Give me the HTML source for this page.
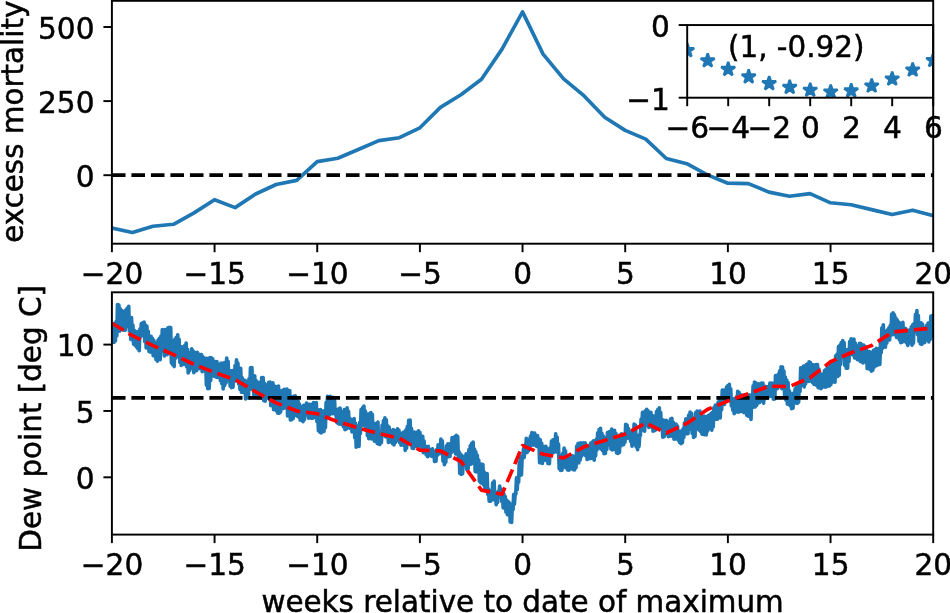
<!DOCTYPE html>
<html lang="en"><head><meta charset="utf-8"><title>excess mortality and dew point</title>
<style>html,body{margin:0;padding:0;background:#fff;overflow:hidden}svg{display:block}text{font-family:"DejaVu Sans","Liberation Sans",sans-serif;font-size:29.4px;fill:#000;stroke:#000;stroke-width:0.5px}.t{font-size:29.6px}</style></head><body>
<svg width="950" height="613" viewBox="0 0 950 613">
<rect width="950" height="613" fill="#fff"/>
<defs>
<clipPath id="c1"><rect x="111.9" y="0.8" width="821.3" height="242.9"/></clipPath>
<clipPath id="c2"><rect x="111.9" y="292.3" width="821.3" height="242.3"/></clipPath>
<clipPath id="c3"><rect x="687.2" y="25.05" width="246" height="72.65"/></clipPath>
</defs>
<g clip-path="url(#c1)">
<polyline fill="none" stroke="#1f77b4" stroke-width="3.66" stroke-linejoin="round" stroke-linecap="square" points="111.9,228.1 132.43,232.5 152.97,226.2 173.5,224.3 194.03,212.9 214.56,199.7 235.1,207.6 255.63,194 276.16,184.5 296.69,180.4 317.23,161.6 337.76,158.2 358.29,149.5 378.82,140.6 399.36,137.7 419.89,127.8 440.42,107.4 460.95,94.7 481.49,79.2 502.02,49.1 522.55,11.9 543.08,54.1 563.62,78.8 584.15,95.9 604.68,117.3 625.21,130.4 645.75,139.1 666.28,158.5 686.81,163.7 707.34,174.9 727.88,183.2 748.41,183.6 768.94,192.1 789.47,196.2 810.01,193.6 830.54,202.8 851.07,204.7 871.6,209.6 892.14,214.5 912.67,210.2 933.2,215.7"/>
<line x1="111.9" y1="175.2" x2="933.2" y2="175.2" stroke="#000" stroke-width="3.66" stroke-dasharray="13.6 5.9"/>
</g>
<g clip-path="url(#c2)">
<polyline fill="none" stroke="#1f77b4" stroke-width="3.66" stroke-linejoin="round" points="111.9,326.3 112.6,341.21 113.3,324.47 114,342.32 114.7,323.3 115.4,340.96 116.1,321.62 116.8,335.91 117.5,304.66 118.2,331.01 118.9,305.14 119.6,331.16 120.3,308.78 121,328.55 121.7,310.46 122.4,329.66 123.1,311.53 123.8,330.09 124.5,311.18 125.2,330.23 125.9,309.85 126.6,324.95 127.3,308.1 128,326.57 128.7,306.24 129.4,331.21 130.1,318.85 130.8,339.49 131.5,317.52 132.2,339.96 132.9,325.02 133.6,344.22 134.3,330.26 135,345.16 135.7,332.38 136.4,346.84 137.1,331.48 137.8,348.76 138.5,332.2 139.2,350.67 139.9,329.16 140.6,336.79 141.3,323.48 142,333.81 142.7,322.71 143.4,335.55 144.1,322.2 144.8,341.69 145.5,324.96 146.2,347.91 146.9,325.97 147.6,344.15 148.3,331.43 149,351.39 149.7,338.28 150.4,352.21 151.1,336.3 151.8,351.42 152.5,338.34 153.2,355.75 153.9,340.63 154.6,355.64 155.3,345.28 156,359.64 156.7,342.97 157.4,361.24 158.1,339.75 158.8,357.15 159.5,338.31 160.2,359.68 160.9,335.98 161.6,350.62 162.3,329.66 163,351.61 163.7,330.05 164.4,355.92 165.1,329.65 165.8,353.26 166.5,330.75 167.2,354.74 167.9,327.79 168.6,350.1 169.3,327.26 170,349.62 170.7,327.61 171.4,363.05 172.1,341.44 172.8,365.01 173.5,340.56 174.2,366.56 174.9,339.12 175.6,358.22 176.3,337.25 177,356.65 177.7,334.91 178.4,354.79 179.1,339.23 179.8,362.3 180.5,349.61 181.2,365.34 181.9,346.8 182.6,362.07 183.3,349.38 184,364.35 184.7,345.56 185.4,363.37 186.1,342.97 186.8,366.93 187.5,349.38 188.2,372.87 188.9,352.66 189.6,370.71 190.3,354.41 191,366.44 191.7,348.85 192.4,368.37 193.1,350.82 193.8,372.79 194.5,355.18 195.2,370.57 195.9,352.62 196.6,370.79 197.3,352.38 198,368.29 198.7,354.12 199.4,368.68 200.1,354.54 200.8,368.97 201.5,354.64 202.2,371.69 202.9,356.75 203.6,368.05 204.3,357.81 205,371.21 205.7,359.92 206.4,385.23 207.1,358.3 207.8,388.63 208.5,359.06 209.2,388.52 209.9,357.7 210.6,380.64 211.3,357.86 212,374.99 212.7,358.85 213.4,376.08 214.1,363.09 214.8,373.33 215.5,361.65 216.2,377.1 216.9,361.53 217.6,377.38 218.3,364.03 219,374.05 219.7,365.38 220.4,380.62 221.1,363.17 221.8,383.63 222.5,365.65 223.2,388.98 223.9,362.76 224.6,385.41 225.3,362.28 226,382.99 226.7,358.04 227.4,377.85 228.1,361.25 228.8,380.7 229.5,373.28 230.2,386.19 230.9,370.81 231.6,387.55 232.3,370.62 233,387.11 233.7,371.25 234.4,381.49 235.1,365.64 235.8,379.54 236.5,359.72 237.2,378.85 237.9,363.07 238.6,383.99 239.3,368.46 240,389.37 240.7,368.29 241.4,392.08 242.1,377.55 242.8,392.34 243.5,379.93 244.2,391.92 244.9,380.27 245.6,398.87 246.3,381.15 247,395.32 247.7,381.62 248.4,397.99 249.1,378.61 249.8,389.33 250.5,367.93 251.2,388.97 251.9,367.5 252.6,389.37 253.3,375.93 254,396.43 254.7,375.79 255.4,393.77 256.1,380.55 256.8,396 257.5,384.12 258.2,397.9 258.9,382.34 259.6,397.42 260.3,383.08 261,396.52 261.7,377.5 262.4,398.25 263.1,377.54 263.8,400.61 264.5,383.33 265.2,401.18 265.9,384.76 266.6,398.22 267.3,387.31 268,397.61 268.7,382.42 269.4,399.43 270.1,382.19 270.8,405.58 271.5,385.64 272.2,403.1 272.9,382.87 273.6,409.79 274.3,385.87 275,408.53 275.7,389.45 276.4,411.03 277.1,386.57 277.8,413.18 278.5,386.1 279.2,413.23 279.9,390.78 280.6,412.05 281.3,390.91 282,408.5 282.7,390.43 283.4,408.46 284.1,389.27 284.8,407.62 285.5,389.28 286.2,407.67 286.9,389.12 287.6,415.97 288.3,390.72 289,416.19 289.7,390.54 290.4,420.01 291.1,396.58 291.8,419.74 292.5,398.94 293.2,418.43 293.9,396.16 294.6,414.04 295.3,395.95 296,415.38 296.7,397.64 297.4,416.1 298.1,400.89 298.8,417.18 299.5,403.96 300.2,420.15 300.9,407.32 301.6,417.53 302.3,406.53 303,421.63 303.7,405.42 304.4,419.65 305.1,406.56 305.8,414.84 306.5,403.04 307.2,415.11 307.9,404.08 308.6,418.07 309.3,404.25 310,417.93 310.7,404.74 311.4,418.29 312.1,404.04 312.8,418.11 313.5,402.64 314.2,417.14 314.9,403.48 315.6,417.7 316.3,402.63 317,421.71 317.7,409.69 318.4,430.61 319.1,411.94 319.8,432.07 320.5,409.55 321.2,432.91 321.9,410.79 322.6,431.62 323.3,413.01 324,431.37 324.7,410.46 325.4,427.7 326.1,402.69 326.8,415.19 327.5,396.22 328.2,415.7 328.9,397.48 329.6,414.84 330.3,396.43 331,411.47 331.7,397.39 332.4,413.58 333.1,397.35 333.8,410.36 334.5,399.64 335.2,414.26 335.9,409.58 336.6,422.08 337.3,410.8 338,423.46 338.7,408.94 339.4,424.26 340.1,408.12 340.8,422.42 341.5,411.61 342.2,425 342.9,412.43 343.6,426.95 344.3,409.69 345,429.77 345.7,411.97 346.4,428.89 347.1,407.84 347.8,427.98 348.5,411.3 349.2,424.5 349.9,418.33 350.6,428.51 351.3,421.79 352,431.93 352.7,419.5 353.4,431.47 354.1,418.52 354.8,437.67 355.5,423.41 356.2,447.28 356.9,428.91 357.6,445.95 358.3,426.2 359,446.41 359.7,422.37 360.4,433.39 361.1,409.47 361.8,425.23 362.5,407.84 363.2,424 363.9,406.12 364.6,425.59 365.3,411.01 366,430.42 366.7,413.82 367.4,435.62 368.1,414.58 368.8,438.69 369.5,413.68 370.2,435.89 370.9,412.56 371.6,438.85 372.3,414.27 373,436.49 373.7,422.96 374.4,441.21 375.1,426.62 375.8,440.87 376.5,423.43 377.2,443.51 377.9,422.11 378.6,444.05 379.3,440.29 380,444.39 380.7,438.72 381.4,442.38 382.1,425.24 382.8,435.75 383.5,420.55 384.2,433.29 384.9,417.86 385.6,436.8 386.3,419.88 387,437.06 387.7,425.82 388.4,442.52 389.1,427.02 389.8,440.92 390.5,430.39 391.2,442.2 391.9,430.51 392.6,443.76 393.3,429.58 394,444.86 394.7,430.53 395.4,442.39 396.1,433.02 396.8,439.26 397.5,428.85 398.2,440.69 398.9,430 399.6,442.76 400.3,433.38 401,445.11 401.7,433.22 402.4,440.74 403.1,432.37 403.8,445.35 404.5,431.87 405.2,450.33 405.9,429.87 406.6,448.19 407.3,426.52 408,438.06 408.7,420.39 409.4,440.82 410.1,420.03 410.8,441.18 411.5,428.49 412.2,448.16 412.9,432.14 413.6,448.52 414.3,432.15 415,445.34 415.7,434.18 416.4,446.48 417.1,432.16 417.8,445.95 418.5,430.81 419.2,445.71 419.9,432.3 420.6,446.35 421.3,436.17 422,450.59 422.7,436.36 423.4,452.66 424.1,441.15 424.8,452.3 425.5,446.31 426.2,454.81 426.9,450.76 427.6,456.65 428.3,446.44 429,455.6 429.7,449.26 430.4,454.11 431.1,451.05 431.8,456.27 432.5,448.82 433.2,456.01 433.9,454.35 434.6,461.5 435.3,451.45 436,461.13 436.7,449.54 437.4,455.13 438.1,444.89 438.8,453.85 439.5,445.08 440.2,453.39 440.9,439.14 441.6,452.77 442.3,440.74 443,461.16 443.7,451.89 444.4,464.59 445.1,452.41 445.8,462.17 446.5,445.89 447.2,453.91 447.9,443.93 448.6,456.76 449.3,445.71 450,456.47 450.7,443.21 451.4,452.54 452.1,437.59 452.8,451.15 453.5,438.28 454.2,448.91 454.9,436.54 455.6,453.89 456.3,435.39 457,453.82 457.7,436.61 458.4,458 459.1,451.73 459.8,473.32 460.5,454.05 461.2,474.44 461.9,455.37 462.6,473.71 463.3,456.59 464,464.91 464.7,457.22 465.4,465.44 466.1,453.75 466.8,469.35 467.5,455.85 468.2,468.44 468.9,449.47 469.6,460.48 470.3,445.5 471,464.17 471.7,443.25 472.4,459.13 473.1,442.14 473.8,463.52 474.5,448.99 475.2,471.55 475.9,451.94 476.6,471.82 477.3,455.25 478,470.65 478.7,459.99 479.4,481.3 480.1,464.67 480.8,482.87 481.5,464.11 482.2,480.41 482.9,464.64 483.6,484.85 484.3,472.19 485,489.31 485.7,473.64 486.4,488.67 487.1,473.51 487.8,494.56 488.5,489.18 489.2,501.23 489.9,490.54 490.6,501.23 491.3,492.36 492,500.05 492.7,482.71 493.4,499.71 494.1,481.01 494.8,498.8 495.5,495.25 496.2,504.62 496.9,494.53 497.6,502.44 498.3,491.25 499,494.24 499.7,486.18 500.4,496.08 501.1,489.05 501.8,501.66 502.5,495.45 503.2,507.88 503.9,493.78 504.6,505.41 505.3,496.62 506,512.26 506.7,500.42 507.4,514.78 508.1,501.43 508.8,514.14 509.5,502.81 510.2,521.84 510.9,505.32 511.6,522.4 512.3,504.56 513,509.72 513.7,494.36 514.4,504.1 515.1,494.78 515.8,494.2 516.5,477.71 517.2,489.77 517.9,477 518.6,482.12 519.3,462.04 520,475.45 520.7,456.35 521.4,474.96 522.1,458.19 522.8,458.53 523.5,448.87 524.2,457.42 524.9,445.17 525.6,453 526.3,438.33 527,452.54 527.7,439.41 528.4,450.9 529.1,440.06 529.8,447.22 530.5,436.13 531.2,443.45 531.9,432.64 532.6,445.03 533.3,433.33 534,445.22 534.7,433.04 535.4,444.7 536.1,436.03 536.8,446.51 537.5,435.68 538.2,446.3 538.9,438.82 539.6,462.64 540.3,439.78 541,462.99 541.7,443.32 542.4,463.36 543.1,446.58 543.8,460.42 544.5,446.64 545.2,459.26 545.9,446.37 546.6,460.56 547.3,448.98 548,463.54 548.7,448.84 549.4,463.71 550.1,447.79 550.8,455.24 551.5,441.08 552.2,452.62 552.9,439.91 553.6,452.31 554.3,439.68 555,447.79 555.7,433.8 556.4,452.01 557.1,437.08 557.8,452.22 558.5,444.01 559.2,468.71 559.9,455.71 560.6,470.51 561.3,456 562,470.07 562.7,453.31 563.4,466.19 564.1,448.16 564.8,467.06 565.5,450.74 566.2,467.86 566.9,455.84 567.6,470 568.3,459.13 569,470.2 569.7,457.86 570.4,468.83 571.1,457.95 571.8,468.52 572.5,455.95 573.2,469.57 573.9,456.38 574.6,469.92 575.3,457.02 576,467.61 576.7,446.2 577.4,459.86 578.1,443.38 578.8,463.01 579.5,443.22 580.2,459.94 580.9,442.72 581.6,456.03 582.3,444.36 583,454.75 583.7,442.9 584.4,454.53 585.1,442.78 585.8,456 586.5,446.1 587.2,459.53 587.9,447.17 588.6,458.54 589.3,446.22 590,458.63 590.7,443.16 591.4,456.75 592.1,442.16 592.8,458.36 593.5,440.79 594.2,460.25 594.9,444.81 595.6,455.93 596.3,439.43 597,449.86 597.7,432.77 598.4,446.41 599.1,429.54 599.8,448.24 600.5,428.32 601.2,449.22 601.9,433.29 602.6,450.79 603.3,436.08 604,453.56 604.7,438.17 605.4,453.41 606.1,439.69 606.8,449.37 607.5,432.65 608.2,445.25 608.9,431.87 609.6,443.14 610.3,431.28 611,449.15 611.7,428.97 612.4,449.86 613.1,431.06 613.8,449.4 614.5,430.22 615.2,449.02 615.9,433.24 616.6,453.02 617.3,439.95 618,453.48 618.7,438.15 619.4,452.49 620.1,434.95 620.8,445.98 621.5,433.87 622.2,444.93 622.9,436.68 623.6,444.63 624.3,435.58 625,442.29 625.7,424.24 626.4,438.53 627.1,425.12 627.8,437.7 628.5,428.45 629.2,438.02 629.9,431.32 630.6,441.31 631.3,432.21 632,446.15 632.7,431.06 633.4,444.78 634.1,424.15 634.8,444.33 635.5,424.96 636.2,447 636.9,435.45 637.6,449.65 638.3,435.36 639,446.47 639.7,435.29 640.4,435.6 641.1,419.05 641.8,428.84 642.5,412.34 643.2,430.22 643.9,413.4 644.6,431.29 645.3,410.9 646,425.49 646.7,409.28 647.4,425.18 648.1,410.77 648.8,427.4 649.5,412.38 650.2,426.07 650.9,412.26 651.6,427.13 652.3,415.51 653,431.09 653.7,416.08 654.4,430.78 655.1,416.49 655.8,429.9 656.5,411.65 657.2,425.71 657.9,409.32 658.6,426.58 659.3,407.95 660,424.67 660.7,412.7 661.4,428.74 662.1,423.93 662.8,437.24 663.5,420.07 664.2,436.69 664.9,422.58 665.6,434.09 666.3,420.39 667,433.49 667.7,422 668.4,436.56 669.1,421.89 669.8,435.68 670.5,419.18 671.2,436.15 671.9,418.43 672.6,434.64 673.3,422.42 674,439.22 674.7,426.38 675.4,438.98 676.1,424.16 676.8,438.74 677.5,425.99 678.2,440.13 678.9,432.49 679.6,442.44 680.3,431.4 681,443.65 681.7,430.94 682.4,442.68 683.1,428.76 683.8,437.44 684.5,422.76 685.2,433.68 685.9,418.77 686.6,433.79 687.3,418.74 688,433.68 688.7,415.08 689.4,427.21 690.1,412.15 690.8,429.45 691.5,413.4 692.2,433.47 692.9,422.09 693.6,437.48 694.3,424.61 695,436.33 695.7,412.63 696.4,429.11 697.1,410.96 697.8,427.56 698.5,412.87 699.2,430.16 699.9,411.02 700.6,431.49 701.3,417.47 702,434.1 702.7,416.55 703.4,434.53 704.1,415.97 704.8,434.65 705.5,416.73 706.2,434.87 706.9,416.61 707.6,431.25 708.3,415.27 709,428.92 709.7,414.72 710.4,427.65 711.1,413.23 711.8,430.17 712.5,412.34 713.2,426.91 713.9,407.46 714.6,419.36 715.3,404.98 716,419.27 716.7,408.15 717.4,419.14 718.1,402.39 718.8,417 719.5,399.12 720.2,417.92 720.9,399.73 721.6,409.62 722.3,390.01 723,404.82 723.7,389.96 724.4,404.51 725.1,391.64 725.8,400.25 726.5,387.19 727.2,398.46 727.9,385.46 728.6,400.28 729.3,384.36 730,400.38 730.7,388.84 731.4,405.8 732.1,399.69 732.8,410.18 733.5,398.86 734.2,413.73 734.9,400.64 735.6,412.17 736.3,397.09 737,411.21 737.7,391.37 738.4,412.17 739.1,392.33 739.8,411.61 740.5,394.87 741.2,411.1 741.9,395.04 742.6,411.58 743.3,395.66 744,412.58 744.7,394.72 745.4,411.62 746.1,402.23 746.8,415.28 747.5,398.52 748.2,416.2 748.9,394.89 749.6,416.21 750.3,399.32 751,419.49 751.7,394.71 752.4,407.61 753.1,385.94 753.8,401.21 754.5,382.17 755.2,407.02 755.9,382.83 756.6,405.47 757.3,385.12 758,401.9 758.7,383.81 759.4,402.66 760.1,383.96 760.8,401.21 761.5,383.03 762.2,400.74 762.9,383.11 763.6,403.19 764.3,385.97 765,398.88 765.7,389.6 766.4,398.09 767.1,386.49 767.8,398.13 768.5,389.21 769.2,395.91 769.9,383.12 770.6,396.28 771.3,383.14 772,396.15 772.7,383.31 773.4,399.17 774.1,383.89 774.8,398.82 775.5,375.58 776.2,389.18 776.9,375.7 777.6,388.43 778.3,374.03 779,385.65 779.7,370.78 780.4,383.37 781.1,366.8 781.8,388.66 782.5,367.11 783.2,383.08 783.9,371.17 784.6,395.2 785.3,377.04 786,400.16 786.7,380.01 787.4,404.19 788.1,382.55 788.8,403.56 789.5,391.07 790.2,405.79 790.9,395.09 791.6,408.6 792.3,393.48 793,408.17 793.7,393.12 794.4,403.13 795.1,388.93 795.8,400.37 796.5,384.98 797.2,403.46 797.9,385.18 798.6,402.15 799.3,382.52 800,391.37 800.7,367.86 801.4,385.42 802.1,368.29 802.8,384.56 803.5,366.04 804.2,386.87 804.9,369.43 805.6,383.89 806.3,364.6 807,379.34 807.7,363.86 808.4,381.51 809.1,361.84 809.8,381.17 810.5,362.66 811.2,380.35 811.9,364.63 812.6,382.71 813.3,364.89 814,384.33 814.7,367.25 815.4,383.99 816.1,364.7 816.8,385.78 817.5,364.54 818.2,387.59 818.9,369.18 819.6,387.61 820.3,374.72 821,388.6 821.7,374.07 822.4,387.21 823.1,375.02 823.8,386.25 824.5,370.65 825.2,387.24 825.9,369.27 826.6,386.76 827.3,367.85 828,385.81 828.7,367.88 829.4,385.87 830.1,363.78 830.8,384.6 831.5,363.76 832.2,382.02 832.9,362.87 833.6,381.89 834.3,362.3 835,382.26 835.7,355.74 836.4,376.78 837.1,354.09 837.8,376.47 838.5,346.62 839.2,375.2 839.9,345.2 840.6,364.42 841.3,342.47 842,354.93 842.7,340.53 843.4,354.94 844.1,342.6 844.8,365.53 845.5,349.5 846.2,368.14 846.9,351.88 847.6,368.09 848.3,349.38 849,361.54 849.7,341.62 850.4,354.77 851.1,338.85 851.8,353.92 852.5,339.58 853.2,355.11 853.9,339.15 854.6,357.93 855.3,343.13 856,358.12 856.7,347.58 857.4,359.71 858.1,345.95 858.8,358.07 859.5,343.32 860.2,361.5 860.9,343.61 861.6,362.03 862.3,349.22 863,362.86 863.7,345.11 864.4,361.54 865.1,346.3 865.8,362.24 866.5,350.33 867.2,368.7 867.9,351.4 868.6,368.04 869.3,351.66 870,369.55 870.7,353.36 871.4,371.09 872.1,352.18 872.8,370.15 873.5,350.31 874.2,367.27 874.9,349.7 875.6,365.97 876.3,348.36 877,365.52 877.7,349.9 878.4,364.34 879.1,348.51 879.8,364.43 880.5,343.1 881.2,352.77 881.9,327.88 882.6,348.27 883.3,324.72 884,346.4 884.7,331.18 885.4,347.15 886.1,332.36 886.8,343.08 887.5,329.91 888.2,340.05 888.9,327.94 889.6,339.84 890.3,325.42 891,335.08 891.7,314.16 892.4,334.58 893.1,312.84 893.8,332.32 894.5,314.92 895.2,334.88 895.9,318.2 896.6,337.35 897.3,320.05 898,337.44 898.7,321.97 899.4,339.95 900.1,323.05 900.8,342.79 901.5,324.29 902.2,342.2 902.9,322.45 903.6,341.17 904.3,328.13 905,341.25 905.7,328.64 906.4,343.02 907.1,331.18 907.8,345.51 908.5,330.67 909.2,341.57 909.9,329.62 910.6,343.11 911.3,326.72 912,345.11 912.7,324.82 913.4,343.11 914.1,323.45 914.8,330.78 915.5,314.38 916.2,331.37 916.9,310.68 917.6,334.64 918.3,315.58 919,341.49 919.7,324.06 920.4,343.92 921.1,322.82 921.8,344.49 922.5,324.07 923.2,342.38 923.9,328.43 924.6,342.6 925.3,327.89 926,340.19 926.7,325.45 927.4,338.43 928.1,323.11 928.8,341.89 929.5,322.6 930.2,339.4 930.9,316.17 931.6,336.67 932.3,315.65 933,337.13"/>
<line x1="111.9" y1="397.85" x2="933.2" y2="397.85" stroke="#000" stroke-width="3.66" stroke-dasharray="13.6 5.9"/>
<polyline fill="none" stroke="#f00" stroke-width="3.66" stroke-linejoin="round" stroke-dasharray="13.6 5.9" points="111.9,323.2 132.43,335.7 152.97,345.6 173.5,354.6 194.03,364.4 214.56,372.5 235.1,379.6 255.63,391.8 276.16,402.9 296.69,411 317.23,413.7 337.76,421.7 358.29,428 378.82,433.6 399.36,438.2 419.89,450.2 440.42,450.9 460.95,461.5 481.49,490.1 502.02,494.3 522.55,445.6 543.08,454.2 563.62,458 584.15,446.8 604.68,440.4 625.21,434.1 645.75,423 666.28,433 686.81,423.4 707.34,409.5 727.88,401 748.41,393.6 768.94,386.2 789.47,386.6 810.01,377.7 830.54,361.8 851.07,352.8 871.6,345.6 892.14,332.2 912.67,329.8 933.2,328.2"/>
</g>
<rect x="111.9" y="0.8" width="821.3" height="242.9" fill="none" stroke="#000" stroke-width="1.94" stroke-linejoin="miter"/>
<line x1="111.9" y1="243.7" x2="111.9" y2="252.2" stroke="#000" stroke-width="1.94"/>
<text class="t" x="112.05" y="283.5" text-anchor="middle">−20</text>
<line x1="214.56" y1="243.7" x2="214.56" y2="252.2" stroke="#000" stroke-width="1.94"/>
<text class="t" x="214.71" y="283.5" text-anchor="middle">−15</text>
<line x1="317.23" y1="243.7" x2="317.23" y2="252.2" stroke="#000" stroke-width="1.94"/>
<text class="t" x="317.38" y="283.5" text-anchor="middle">−10</text>
<line x1="419.89" y1="243.7" x2="419.89" y2="252.2" stroke="#000" stroke-width="1.94"/>
<text class="t" x="420.04" y="283.5" text-anchor="middle">−5</text>
<line x1="522.55" y1="243.7" x2="522.55" y2="252.2" stroke="#000" stroke-width="1.94"/>
<text class="t" x="522.7" y="283.5" text-anchor="middle">0</text>
<line x1="625.21" y1="243.7" x2="625.21" y2="252.2" stroke="#000" stroke-width="1.94"/>
<text class="t" x="625.36" y="283.5" text-anchor="middle">5</text>
<line x1="727.88" y1="243.7" x2="727.88" y2="252.2" stroke="#000" stroke-width="1.94"/>
<text class="t" x="728.02" y="283.5" text-anchor="middle">10</text>
<line x1="830.54" y1="243.7" x2="830.54" y2="252.2" stroke="#000" stroke-width="1.94"/>
<text class="t" x="830.69" y="283.5" text-anchor="middle">15</text>
<line x1="933.2" y1="243.7" x2="933.2" y2="252.2" stroke="#000" stroke-width="1.94"/>
<text class="t" x="933.35" y="283.5" text-anchor="middle">20</text>
<line x1="103.4" y1="27" x2="111.9" y2="27" stroke="#000" stroke-width="1.94"/>
<text class="t" x="94.5" y="38.8" text-anchor="end">500</text>
<line x1="103.4" y1="101.1" x2="111.9" y2="101.1" stroke="#000" stroke-width="1.94"/>
<text class="t" x="94.5" y="112.9" text-anchor="end">250</text>
<line x1="103.4" y1="175.2" x2="111.9" y2="175.2" stroke="#000" stroke-width="1.94"/>
<text class="t" x="94.5" y="187" text-anchor="end">0</text>
<rect x="111.9" y="292.3" width="821.3" height="242.3" fill="none" stroke="#000" stroke-width="1.94" stroke-linejoin="miter"/>
<line x1="111.9" y1="534.6" x2="111.9" y2="543.1" stroke="#000" stroke-width="1.94"/>
<text class="t" x="112.05" y="574.5" text-anchor="middle">−20</text>
<line x1="214.56" y1="534.6" x2="214.56" y2="543.1" stroke="#000" stroke-width="1.94"/>
<text class="t" x="214.71" y="574.5" text-anchor="middle">−15</text>
<line x1="317.23" y1="534.6" x2="317.23" y2="543.1" stroke="#000" stroke-width="1.94"/>
<text class="t" x="317.38" y="574.5" text-anchor="middle">−10</text>
<line x1="419.89" y1="534.6" x2="419.89" y2="543.1" stroke="#000" stroke-width="1.94"/>
<text class="t" x="420.04" y="574.5" text-anchor="middle">−5</text>
<line x1="522.55" y1="534.6" x2="522.55" y2="543.1" stroke="#000" stroke-width="1.94"/>
<text class="t" x="522.7" y="574.5" text-anchor="middle">0</text>
<line x1="625.21" y1="534.6" x2="625.21" y2="543.1" stroke="#000" stroke-width="1.94"/>
<text class="t" x="625.36" y="574.5" text-anchor="middle">5</text>
<line x1="727.88" y1="534.6" x2="727.88" y2="543.1" stroke="#000" stroke-width="1.94"/>
<text class="t" x="728.02" y="574.5" text-anchor="middle">10</text>
<line x1="830.54" y1="534.6" x2="830.54" y2="543.1" stroke="#000" stroke-width="1.94"/>
<text class="t" x="830.69" y="574.5" text-anchor="middle">15</text>
<line x1="933.2" y1="534.6" x2="933.2" y2="543.1" stroke="#000" stroke-width="1.94"/>
<text class="t" x="933.35" y="574.5" text-anchor="middle">20</text>
<line x1="103.4" y1="344.6" x2="111.9" y2="344.6" stroke="#000" stroke-width="1.94"/>
<text class="t" x="94.5" y="356.2" text-anchor="end">10</text>
<line x1="103.4" y1="410.95" x2="111.9" y2="410.95" stroke="#000" stroke-width="1.94"/>
<text class="t" x="94.5" y="422.55" text-anchor="end">5</text>
<line x1="103.4" y1="477.3" x2="111.9" y2="477.3" stroke="#000" stroke-width="1.94"/>
<text class="t" x="94.5" y="488.9" text-anchor="end">0</text>
<g clip-path="url(#c3)" fill="#1f77b4" stroke="#1f77b4" stroke-width="2.43" stroke-linejoin="bevel">
<polygon transform="translate(687.2 50.5)" points="0,-7.3 -1.64,-2.26 -6.94,-2.26 -2.65,0.86 -4.29,5.91 -0,2.79 4.29,5.91 2.65,0.86 6.94,-2.26 1.64,-2.26"/>
<polygon transform="translate(707.7 60.7)" points="0,-7.3 -1.64,-2.26 -6.94,-2.26 -2.65,0.86 -4.29,5.91 -0,2.79 4.29,5.91 2.65,0.86 6.94,-2.26 1.64,-2.26"/>
<polygon transform="translate(728.2 69.3)" points="0,-7.3 -1.64,-2.26 -6.94,-2.26 -2.65,0.86 -4.29,5.91 -0,2.79 4.29,5.91 2.65,0.86 6.94,-2.26 1.64,-2.26"/>
<polygon transform="translate(748.7 76.8)" points="0,-7.3 -1.64,-2.26 -6.94,-2.26 -2.65,0.86 -4.29,5.91 -0,2.79 4.29,5.91 2.65,0.86 6.94,-2.26 1.64,-2.26"/>
<polygon transform="translate(769.2 83.5)" points="0,-7.3 -1.64,-2.26 -6.94,-2.26 -2.65,0.86 -4.29,5.91 -0,2.79 4.29,5.91 2.65,0.86 6.94,-2.26 1.64,-2.26"/>
<polygon transform="translate(789.7 87.3)" points="0,-7.3 -1.64,-2.26 -6.94,-2.26 -2.65,0.86 -4.29,5.91 -0,2.79 4.29,5.91 2.65,0.86 6.94,-2.26 1.64,-2.26"/>
<polygon transform="translate(810.2 90.1)" points="0,-7.3 -1.64,-2.26 -6.94,-2.26 -2.65,0.86 -4.29,5.91 -0,2.79 4.29,5.91 2.65,0.86 6.94,-2.26 1.64,-2.26"/>
<polygon transform="translate(830.7 91.9)" points="0,-7.3 -1.64,-2.26 -6.94,-2.26 -2.65,0.86 -4.29,5.91 -0,2.79 4.29,5.91 2.65,0.86 6.94,-2.26 1.64,-2.26"/>
<polygon transform="translate(851.2 90.8)" points="0,-7.3 -1.64,-2.26 -6.94,-2.26 -2.65,0.86 -4.29,5.91 -0,2.79 4.29,5.91 2.65,0.86 6.94,-2.26 1.64,-2.26"/>
<polygon transform="translate(871.7 85.9)" points="0,-7.3 -1.64,-2.26 -6.94,-2.26 -2.65,0.86 -4.29,5.91 -0,2.79 4.29,5.91 2.65,0.86 6.94,-2.26 1.64,-2.26"/>
<polygon transform="translate(892.2 78.9)" points="0,-7.3 -1.64,-2.26 -6.94,-2.26 -2.65,0.86 -4.29,5.91 -0,2.79 4.29,5.91 2.65,0.86 6.94,-2.26 1.64,-2.26"/>
<polygon transform="translate(912.7 69.9)" points="0,-7.3 -1.64,-2.26 -6.94,-2.26 -2.65,0.86 -4.29,5.91 -0,2.79 4.29,5.91 2.65,0.86 6.94,-2.26 1.64,-2.26"/>
<polygon transform="translate(933.2 60.4)" points="0,-7.3 -1.64,-2.26 -6.94,-2.26 -2.65,0.86 -4.29,5.91 -0,2.79 4.29,5.91 2.65,0.86 6.94,-2.26 1.64,-2.26"/>
</g>
<rect x="687.2" y="25.05" width="246" height="72.65" fill="none" stroke="#000" stroke-width="1.94" stroke-linejoin="miter"/>
<line x1="687.2" y1="97.7" x2="687.2" y2="106.2" stroke="#000" stroke-width="1.94"/>
<text class="t" x="687.35" y="137.7" text-anchor="middle">−6</text>
<line x1="728.2" y1="97.7" x2="728.2" y2="106.2" stroke="#000" stroke-width="1.94"/>
<text class="t" x="728.35" y="137.7" text-anchor="middle">−4</text>
<line x1="769.2" y1="97.7" x2="769.2" y2="106.2" stroke="#000" stroke-width="1.94"/>
<text class="t" x="769.35" y="137.7" text-anchor="middle">−2</text>
<line x1="810.2" y1="97.7" x2="810.2" y2="106.2" stroke="#000" stroke-width="1.94"/>
<text class="t" x="810.35" y="137.7" text-anchor="middle">0</text>
<line x1="851.2" y1="97.7" x2="851.2" y2="106.2" stroke="#000" stroke-width="1.94"/>
<text class="t" x="851.35" y="137.7" text-anchor="middle">2</text>
<line x1="892.2" y1="97.7" x2="892.2" y2="106.2" stroke="#000" stroke-width="1.94"/>
<text class="t" x="892.35" y="137.7" text-anchor="middle">4</text>
<line x1="933.2" y1="97.7" x2="933.2" y2="106.2" stroke="#000" stroke-width="1.94"/>
<text class="t" x="933.35" y="137.7" text-anchor="middle">6</text>
<line x1="678.7" y1="25.05" x2="687.2" y2="25.05" stroke="#000" stroke-width="1.94"/>
<text class="t" x="669.8" y="36.85" text-anchor="end">0</text>
<line x1="678.7" y1="97.7" x2="687.2" y2="97.7" stroke="#000" stroke-width="1.94"/>
<text class="t" x="669.8" y="109.5" text-anchor="end">−1</text>
<text x="728" y="56.9">(1, -0.92)</text>
<text transform="translate(23 121.75) rotate(-90)" text-anchor="middle">excess mortality</text>
<text transform="translate(41.1 418.35) rotate(-90)" text-anchor="middle">Dew point [deg C]</text>
<text x="522.55" y="612" text-anchor="middle">weeks relative to date of maximum</text>
</svg></body></html>
